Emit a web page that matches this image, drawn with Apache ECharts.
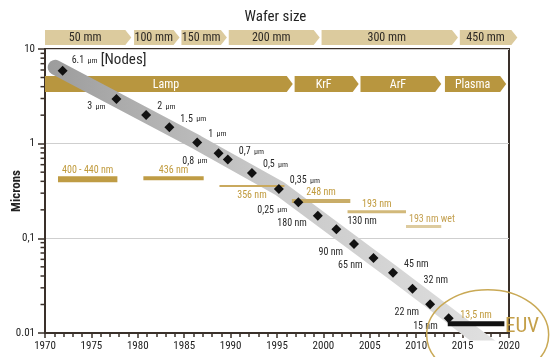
<!DOCTYPE html>
<html><head><meta charset="utf-8">
<script src="https://cdn.jsdelivr.net/npm/echarts@6/dist/echarts.min.js"></script>
<style>html,body{margin:0;padding:0;background:#fff}#c{width:551px;height:357px}</style>
</head><body><div id="c"></div><script>
// ---- data ----
const nodeYears = [1971.9,1977.7,1980.9,1983.4,1986.4,1988.7,1989.7,1992.3,1995.2,1997.3,1999.4,2001.4,2003.3,2005.4,2007.5,2009.6,2011.5,2013.5];
const nodeMicrons = [5.9,2.97,2.01,1.49,1.03,0.79,0.68,0.49,0.333,0.24,0.173,0.125,0.087,0.062,0.0434,0.0294,0.0201,0.0143];
const nodeLabels = ['6.1 µm','3 µm','2 µm','1.5 µm','1 µm','0,8 µm','0,7 µm','0,5 µm','0,35 µm','0,25 µm','180 nm','130 nm','90 nm','65 nm','45 nm','32 nm','22 nm','15 nm'];
const nodeLabelSide = ['nodes','left','right','right','right','left','right','right','right','left','left','right','left','left','right','right','left','left'];

// centre line of the grey trend band
const trendYears = [1971.1, 1986.4, 1995.3, 2007.5, 2018];
const trendMicrons = [6.4, 1.03, 0.335, 0.0434, 0.0072];

const waferLabels = ['50 mm','100 mm','150 mm','200 mm','300 mm','450 mm'];
const waferStart = [1970,1979.6,1984.7,1989.8,1999.8,2014.7];
const waferEnd = [1979.3,1984.5,1989.6,1999.6,2014.5,2020.9];

const sourceLabels = ['Lamp','KrF','ArF','Plasma'];
const sourceStart = [1970,1996.9,2004.0,2013.1];
const sourceEnd = [1996.7,2003.8,2012.7,2019.7];

const waveLabels = ['400 - 440 nm','436 nm','356 nm','248 nm','193 nm','193 nm wet','13,5 nm'];
const waveStart = [1971.4,1980.6,1988.8,1996.6,2002.6,2008.9,2013.4];
const waveEnd = [1977.8,1987.1,1995.8,2002.9,2008.9,2012.7,2019.5];
const waveMicrons = [0.42,0.431,0.357,0.248,0.191,0.133,0.0125];

const yTickValues = [0.01,0.1,1,10];
const yTickLabels = ['0.01','0,1','1','10'];
const xMin = 1970, xMax = 2020, xStep = 5;

// ---- styles (not data) ----
const FONT = "'Liberation Sans Narrow','Roboto Condensed',Roboto,sans-serif";
const DARK = '#3a302a';
const GOLD = '#b8963f';
const TAN = '#dccb9e';
const waveThick = [6,4,2,4,3,3,5];
const waveBarColor = ['#bf9c45','#bf9c45','#c9a95e','#c9ad68','#d2b97a','#ddcb9f','#111111'];
const waveTextColor = ['#c09a3c','#c09a3c','#c09a3c','#c09a3c','#c09a3c','#c4a050','#c09a3c'];
const wavePlace = ['top','top','bottom','top','top','topStart','top'];

// minor log ticks positions (axis decoration)
const minorTicks = [];
[0.01,0.1,1].forEach(d => { for (let k = 2; k <= 9; k++) minorTicks.push(+(d*k).toPrecision(3)); });

function nodeLabel(side){
  const rich = {n:{fontSize:10,color:'#2a2a2a',fontFamily:FONT},u:{fontSize:8,color:'#2a2a2a',fontFamily:FONT},b:{fontSize:15,color:'#2a2a2a',fontFamily:FONT}};
  if (side === 'nodes') return {show:true, position:'right', offset:[-1,-10], rich};
  if (side === 'left') return {show:true, position:'left', offset:[-1,8], rich};
  return {show:true, position:'right', offset:[1,-8], rich};
}

const chart = echarts.init(document.getElementById('c'), null, {renderer:'canvas'});

function arrowRow(startArr, endArr, labels, centerFn, h, fill, textColor, fontSize, z){
  return {
    type:'custom', coordinateSystem:'cartesian2d', clip:false, z:z, silent:true,
    data: startArr.map((s,i)=>[s,endArr[i],i]),
    renderItem:(params, api)=>{
      const cs = params.coordSys;
      const yc = centerFn(cs);
      const x0 = api.coord([api.value(0), 1])[0];
      const x1 = api.coord([api.value(1), 1])[0];
      const tip = 6;
      const t = h/2;
      return {type:'group', children:[
        {type:'polygon', shape:{points:[[x0,yc-t],[x1-tip,yc-t],[x1,yc],[x1-tip,yc+t],[x0,yc+t]]}, style:{fill:fill}},
        {type:'text', style:{text:labels[api.value(2)], x:(x0+x1-tip)/2, y:yc+0.5, align:'center', verticalAlign:'middle', fill:textColor, fontSize:fontSize, fontFamily:FONT}}
      ]};
    }
  };
}

const option = {
  animation:false,
  backgroundColor:'#fff',
  title:{text:'Wafer size', left:'center', top:5, textStyle:{fontSize:15, fontWeight:'normal', color:'#222', fontFamily:FONT}},
  grid:{left:45, right:42, top:49, bottom:24, containLabel:false, outerBoundsMode:'none', show:true, borderColor:DARK, borderWidth:2, backgroundColor:'transparent'},
  xAxis:{type:'value', min:xMin, max:xMax, interval:xStep,
    axisLine:{lineStyle:{color:DARK, width:2}},
    axisTick:{show:true, length:5, lineStyle:{color:DARK, width:1.5}},
    minorTick:{show:true, splitNumber:5, length:4, lineStyle:{color:DARK, width:1.5}},
    splitLine:{show:false},
    axisLabel:{color:'#222', fontSize:11, fontFamily:FONT, margin:8, formatter:(v)=>String(v)}},
  yAxis:{type:'log', logBase:10, min:0.01, max:10,
    name:'Microns', nameLocation:'middle', nameGap:22, nameRotate:90, nameMoveOverlap:false,
    nameTextStyle:{fontSize:13, fontWeight:'bold', color:'#222', fontFamily:FONT},
    axisLine:{show:true, lineStyle:{color:DARK, width:2}},
    axisTick:{show:true, length:7, lineStyle:{color:DARK, width:1.5}},
    splitLine:{show:true, lineStyle:{color:'#cfcfcf', width:1}},
    axisLabel:{color:'#222', fontSize:11, fontFamily:FONT, margin:10,
      formatter:(v)=>{ const i = yTickValues.findIndex(t=>Math.abs(Math.log10(t)-Math.log10(v))<1e-6); return i>=0?yTickLabels[i]:''; }}},
  series:[
    arrowRow(waferStart, waferEnd, waferLabels, cs=>cs.y-11.5, 15, TAN, '#2e2a25', 12, 5),
    arrowRow(sourceStart, sourceEnd, sourceLabels, cs=>cs.y+35, 16, GOLD, '#ffffff', 12, 1),
    {type:'line', z:2, silent:true, symbol:'none', smooth:false, data: trendYears.map((x,i)=>[x,trendMicrons[i]]),
      lineStyle:{width:15, cap:'round', join:'round', color:{type:'linear', x:0, y:0, x2:1, y2:0, colorStops:[{offset:0,color:'#9c9c9c'},{offset:0.45,color:'#c6c6c6'},{offset:1,color:'#e0e0e0'}]}}},
    {type:'custom', coordinateSystem:'cartesian2d', z:3, silent:true, clip:false,
      data: waveStart.map((s,i)=>[s,waveEnd[i],waveMicrons[i],i]),
      renderItem:(params, api)=>{
        const i = api.value(3);
        const p0 = api.coord([api.value(0), api.value(2)]);
        const p1 = api.coord([api.value(1), api.value(2)]);
        const th = waveThick[i];
        const place = wavePlace[i];
        let tx = (p0[0]+p1[0])/2, ty = p0[1]-th/2-1, va='bottom', al='center';
        if (place==='bottom'){ ty = p0[1]+th/2+3; va='top'; }
        if (place==='topStart'){ tx = p0[0]+3; al='left'; }
        return {type:'group', children:[
          {type:'rect', shape:{x:p0[0], y:p0[1]-th/2, width:p1[0]-p0[0], height:th}, style:{fill:waveBarColor[i]}},
          {type:'text', style:{text:waveLabels[i], x:tx, y:ty, align:al, verticalAlign:va, fill:waveTextColor[i], fontSize:10, fontFamily:FONT}}
        ]};
      }},
    {type:'custom', coordinateSystem:'cartesian2d', z:6, silent:true, clip:false,
      data: minorTicks.map(v=>[xMin, v]),
      renderItem:(params, api)=>{
        const p = api.coord([api.value(0), api.value(1)]);
        return {type:'line', shape:{x1:p[0]-4.5, y1:p[1], x2:p[0], y2:p[1]}, style:{stroke:DARK, lineWidth:1.5}};
      }},
    {type:'scatter', z:4, silent:true, symbol:'diamond', symbolSize:10,
      itemStyle:{color:'#111111', opacity:1},
      data: nodeYears.map((x,i)=>({value:[x,nodeMicrons[i]], label:nodeLabel(nodeLabelSide[i])})),
      label:{show:true, formatter:(p)=>{
        const i = p.dataIndex; const parts = nodeLabels[i].split(' ');
        if (nodeLabelSide[i]==='nodes') return '{n|'+parts[0]+'} {u|'+parts[1]+'} {b|[Nodes]}';
        if (parts[1]==='µm') return '{n|'+parts[0]+'} {u|µm}';
        return '{n|'+nodeLabels[i]+'}';
      }}}
  ]
};
chart.setOption(option);

// EUV annotation placed via the chart's own coordinate conversion
const ec = chart.convertToPixel({gridIndex:0}, [2017.7, 0.0096]);
const et = chart.convertToPixel({gridIndex:0}, [2021.4, 0.0117]);
chart.setOption({graphic:[
  {type:'ellipse', shape:{cx:ec[0], cy:ec[1], rx:61, ry:45}, style:{fill:'none', stroke:'#c9a955', lineWidth:1.5}, z:10, silent:true},
  {type:'text', x:et[0], y:et[1], style:{text:'EUV', align:'center', verticalAlign:'middle', fill:'#c4a04a', fontSize:21, fontFamily:FONT}, z:10, silent:true}
]});
</script></body></html>
